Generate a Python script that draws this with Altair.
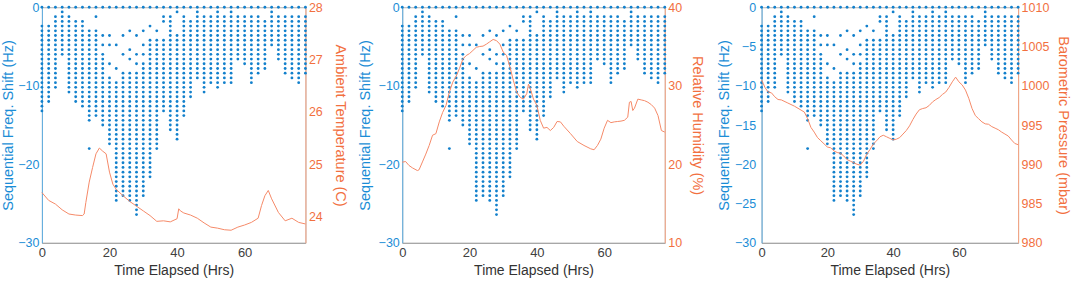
import altair as alt
import pandas as pd

# ---------------- data ----------------
# scatter: one column of dots every 2 hours; rows are 0.6 Hz apart
col_hours = [0, 2, 4, 6, 8, 10, 12, 14, 16, 18, 20, 22, 24, 26, 28, 30, 32, 34, 36, 38,
             40, 42, 44, 46, 48, 50, 52, 54, 56, 58, 60, 62, 64, 66, 68, 70, 72, 74, 76, 78]
dense_top = [4, 4, 2, 1, 2, 3, 3, 5, 5, 10, 15, 16, 14, 14, 14, 12, 7, 7, 7, 2,
             6, 2, 3, 1, 2, 2, 1, 2, 1, 2, 2, 2, 2, 3, 1, 2, 2, 2, 2, 2]
dense_bottom = [22, 20, 17, 10, 18, 20, 21, 24, 23, 25, 29, 41, 40, 41, 44, 40, 36, 30, 22, 26,
                28, 23, 19, 15, 18, 16, 17, 16, 16, 11, 12, 16, 14, 13, 8, 11, 14, 15, 16, 14]
sparse_rows = {14: [30], 16: [2], 18: [6, 8], 20: [6, 8, 12], 22: [8, 13], 24: [6, 10],
               26: [5, 9, 11], 28: [6, 10, 12], 30: [5, 8, 10], 32: [4], 34: [5],
               36: [2, 3], 40: [1]}
row_step_hz = 0.6

# ambient temperature (C)
temp_hours = [0, 2, 4, 6, 8, 10, 12, 12.5, 13, 14, 15, 16, 17, 18, 19, 20, 21, 22, 24, 26,
              28, 30, 32, 34, 36, 38, 40, 40.5, 41, 42, 44, 46, 48, 50, 52, 54, 56, 58, 60,
              62, 64, 65, 66, 67, 68, 70, 72, 74, 76, 78]
temp_vals = [24.46, 24.31, 24.24, 24.13, 24.05, 24.03, 24.02, 24.05, 24.27, 24.66, 24.94, 25.2,
             25.31, 25.25, 25.2, 24.85, 24.62, 24.52, 24.4, 24.29, 24.2, 24.11, 24.02, 23.91,
             23.92, 23.9, 23.96, 24.15, 24.11, 24.07, 24.03, 23.97, 23.88, 23.8, 23.78, 23.75,
             23.74, 23.8, 23.84, 23.89, 23.97, 24.21, 24.4, 24.5, 24.34, 24.08, 23.92, 23.97,
             23.89, 23.86]

# relative humidity (%)
hum_hours = [0, 1, 2, 3, 4.5, 5, 6, 7, 8, 9, 10, 11, 12, 13, 14, 15, 16, 17, 18, 19, 20, 21,
             22, 23, 24, 25, 26, 27, 28, 29, 30, 31, 32, 33, 34, 35, 36, 37, 37.5, 38, 39, 40,
             41, 42, 43, 44, 45, 46, 47, 48, 50, 52, 54, 56, 57, 58, 59, 60, 61, 62, 63, 64,
             65, 66, 67, 67.5, 68, 68.5, 69, 70, 71, 72, 73, 74, 75, 76, 77, 78]
hum_vals = [20.27, 20.35, 19.85, 19.55, 19.2, 19.3, 20.3, 21.3, 22.4, 23.7, 23.9, 25.4, 26.6,
            27.5, 29.2, 30.45, 31.2, 32.2, 33.4, 33.85, 34.1, 34.5, 34.9, 35.0, 35.05, 35.3,
            35.6, 35.9, 35.75, 35.3, 34.3, 33.85, 32.4, 30.7, 29.2, 28.55, 28.3, 29.0, 30.2,
            29.7, 28.3, 27.5, 25.6, 24.6, 24.7, 24.3, 24.7, 25.45, 25.4, 24.85, 23.9, 22.9,
            22.4, 21.97, 21.85, 22.4, 23.2, 24.6, 25.6, 25.3, 25.4, 25.45, 25.5, 25.6, 26.0,
            27.9, 28.0, 26.85, 27.15, 28.3, 28.2, 28.1, 27.9, 27.6, 27.15, 26.2, 24.3, 24.1]

# barometric pressure (mbar)
pres_hours = [0, 0.5, 1, 2, 3, 4, 5, 6, 8, 10, 12, 13, 14, 15, 16, 17, 18, 19, 20, 21, 22, 23,
              24, 25, 26, 27, 28, 29, 30, 31, 32, 33, 34, 35, 36, 37, 38, 39, 40, 41, 42, 43,
              44, 45, 46, 47, 48, 49, 50, 51, 52, 53, 54, 55, 56, 57, 58, 59, 60, 61, 62, 63,
              64, 65, 66, 67, 68, 69, 70, 71, 72, 73, 74, 75, 76, 77, 78]
pres_vals = [1000.74, 1000.3, 999.8, 999.2, 999.1, 998.6, 998.25, 998.2, 997.8, 997.4, 996.9,
             996.65, 995.8, 994.7, 994.1, 993.4, 993.0, 992.6, 992.2, 992.1, 991.7, 991.5,
             991.4, 991.05, 990.6, 990.4, 990.2, 990.0, 989.9, 990.4, 991.3, 991.9, 992.6,
             993.0, 993.5, 993.7, 993.5, 993.3, 993.1, 993.2, 993.4, 993.85, 994.3, 994.9,
             995.7, 996.4, 996.95, 997.1, 997.2, 997.5, 997.95, 998.25, 998.5, 998.9, 999.2,
             999.8, 1000.5, 1001.1, 1000.5, 1000.1, 999.45, 998.4, 997.1, 996.2, 995.8, 995.4,
             995.15, 995.1, 994.8, 994.6, 994.4, 994.1, 993.85, 993.6, 993.1, 992.65, 992.5]

# ---------------- build tables ----------------
dot_h, dot_v = [], []
for h, t, b in zip(col_hours, dense_top, dense_bottom):
    rows = [0] + list(range(t, b + 1)) + sparse_rows.get(h, [])
    for r in sorted(set(rows)):
        dot_h.append(h)
        dot_v.append(-row_step_hz * r)
dots_df = pd.DataFrame({"h": dot_h, "v": dot_v})

BLUE_DOT = "#1280CC"
BLUE_TXT = "#1B8DD6"
BLUE_AX = "#5EAEE2"
ORANGE_TXT = "#F2703F"
ORANGE_LINE = "#F58A68"
ORANGE_AX = "#F7A583"
FONT = "Liberation Sans"
LBL = 12.5
YT = 14.5


def panel(line_h, line_v, rtitle, rdomain, rvalues, lvalues, width,
          l_lpad, l_tpad, r_lpad, r_tpad):
    xenc = alt.X("h:Q", scale=alt.Scale(domain=[0, 78], nice=False, zero=False),
                 axis=alt.Axis(values=[0, 20, 40, 60], title="Time Elapsed (Hrs)",
                               ticks=False, labelFlush=False, labelPadding=4,
                               titlePadding=4, domainColor="#a0a0a0",
                               labelColor="#404040", titleColor="#333333",
                               labelFontSize=13, titleFontSize=14,
                               titleFontWeight="normal", grid=False))
    dots = alt.Chart(dots_df).mark_circle(size=8, color=BLUE_DOT, opacity=1).encode(
        x=xenc,
        y=alt.Y("v:Q", scale=alt.Scale(domain=[-30, 0], nice=False, zero=False),
                axis=alt.Axis(orient="left", values=lvalues, format="d",
                              title="Sequential Freq. Shift (Hz)", ticks=False,
                              labelPadding=l_lpad, titlePadding=l_tpad,
                              domainColor=BLUE_AX, labelColor=BLUE_TXT,
                              titleColor=BLUE_TXT, labelFontSize=LBL,
                              titleFontSize=YT, titleFontWeight="normal", grid=False)))
    ldf = pd.DataFrame({"h": line_h, "val": line_v})
    line = alt.Chart(ldf).mark_line(color=ORANGE_LINE, strokeWidth=1).encode(
        x=alt.X("h:Q", scale=alt.Scale(domain=[0, 78], nice=False, zero=False)),
        y=alt.Y("val:Q", scale=alt.Scale(domain=rdomain, nice=False, zero=False),
                axis=alt.Axis(orient="right", values=rvalues, format="d", title=rtitle,
                              ticks=False, labelPadding=r_lpad, titlePadding=r_tpad,
                              domainColor=ORANGE_AX, labelColor=ORANGE_TXT,
                              titleColor=ORANGE_TXT, labelFontSize=LBL,
                              titleFontSize=YT, titleFontWeight="normal", grid=False)))
    return alt.layer(dots, line).resolve_scale(y="independent").properties(
        width=width, height=236)


p1 = panel(temp_hours, temp_vals, "Ambient Temperature (C)", [23.5, 28],
           [24, 25, 26, 27, 28], [-30, -20, -10, 0], 264, 3, 2, 3, 10)
p2 = panel(hum_hours, hum_vals, "Relative Humidity (%)", [10, 40],
           [10, 20, 30, 40], [-30, -20, -10, 0], 263, 3, 6, 3, 8)
p3 = panel(pres_hours, pres_vals, "Barometric Pressure (mbar)", [980, 1010],
           [980, 985, 990, 995, 1000, 1005, 1010], [-30, -25, -20, -15, -10, -5, 0],
           257, 6, 3, 3, 7)

chart = alt.hconcat(p1, p2, p3, spacing=97, bounds="flush").configure(
    font=FONT, padding={"left": 0, "top": 0, "right": 0, "bottom": 0}
).configure_view(stroke="#b4b4b4", strokeWidth=1)

chart.save("out.html", embed_options={"renderer": "svg", "actions": False})
